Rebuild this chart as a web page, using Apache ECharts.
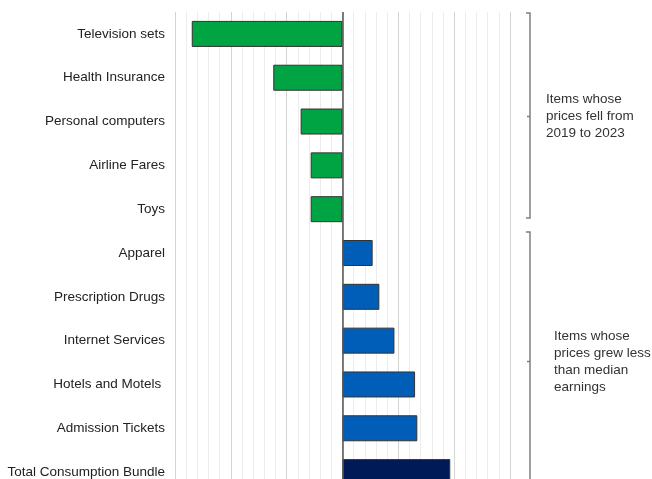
<!DOCTYPE html>
<html><head><meta charset="utf-8">
<script src="https://cdn.jsdelivr.net/npm/echarts@6/dist/echarts.min.js"></script>
<style>html,body{margin:0;padding:0;background:#fff;overflow:hidden;width:652px;height:479px}#c{width:652px;height:494px}</style>
</head><body><div id="c"></div>
<script>
var categories = ["Television sets","Health Insurance","Personal computers","Airline Fares","Toys","Apparel","Prescription Drugs","Internet Services","Hotels and Motels ","Admission Tickets","Total Consumption Bundle"];
var values = [-27.0,-12.4,-7.5,-5.7,-5.7,5.4,6.6,9.3,13.0,13.4,19.3];
var groups = ["fell","fell","fell","fell","fell","less","less","less","less","less","total"];
var groupColors = {fell:"#00A443", less:"#005EB8", total:"#001A57"};
var bracketTexts = ["Items whose\nprices fell from\n2019 to 2023","Items whose\nprices grew less\nthan median\nearnings"];

var FONT = 'Liberation Sans, Arial, sans-serif';
var chart = echarts.init(document.getElementById('c'));
var data = values.map(function(v,i){return {value:v,itemStyle:{color:groupColors[groups[i]]}};});
chart.setOption({
  animation:false,
  grid:{left:175,right:142,top:12,bottom:0,containLabel:false},
  xAxis:{type:'value',min:-30,max:30,interval:10,
    axisLine:{show:false},axisTick:{show:false},axisLabel:{show:false},
    splitLine:{show:true,lineStyle:{color:'#d4d4d4',width:1}},
    minorTick:{show:false,splitNumber:5},
    minorSplitLine:{show:true,lineStyle:{color:'#ececec',width:1}}},
  yAxis:{type:'category',data:categories,inverse:true,
    axisLine:{show:false},axisTick:{show:false},
    axisLabel:{color:'#222',fontFamily:FONT,fontSize:13.5,margin:10}},
  series:[{type:'bar',data:data,barWidth:26,
    itemStyle:{borderColor:'#333',borderWidth:1},
    markLine:{silent:true,symbol:'none',label:{show:false},
      lineStyle:{color:'#555',width:1.5,type:'solid'},data:[{xAxis:0}]}}]
});

function yOf(i){return chart.convertToPixel({yAxisIndex:0},categories[i]);}
var band = yOf(1)-yOf(0);
var bx = 530, hook = 4, bc = '#7f7f7f';
var g = [];
function bracket(top,bot,mid,closed,textX,text){
  var pts = closed ? [[bx-hook,top],[bx,top],[bx,bot],[bx-hook,bot]] : [[bx-hook,top],[bx,top],[bx,bot]];
  g.push({type:'polyline',shape:{points:pts},style:{stroke:bc,lineWidth:1.5,fill:null},silent:true});
  g.push({type:'line',shape:{x1:bx,y1:mid,x2:bx-3,y2:mid},style:{stroke:bc,lineWidth:1.5},silent:true});
  g.push({type:'text',x:textX,y:mid,style:{text:text,fill:'#333',font:'13.5px '+FONT,lineHeight:17,verticalAlign:'middle',align:'left'},silent:true});
}
var t1 = yOf(0)-band/2+1, b1 = yOf(4)+band*0.2;
bracket(t1, b1, (t1+b1)/2+1, true, 546, bracketTexts[0]);
bracket(yOf(5)-band/2+1, 520, (yOf(7)+yOf(8))/2-1, false, 554, bracketTexts[1]);
chart.setOption({graphic:g});
</script></body></html>
